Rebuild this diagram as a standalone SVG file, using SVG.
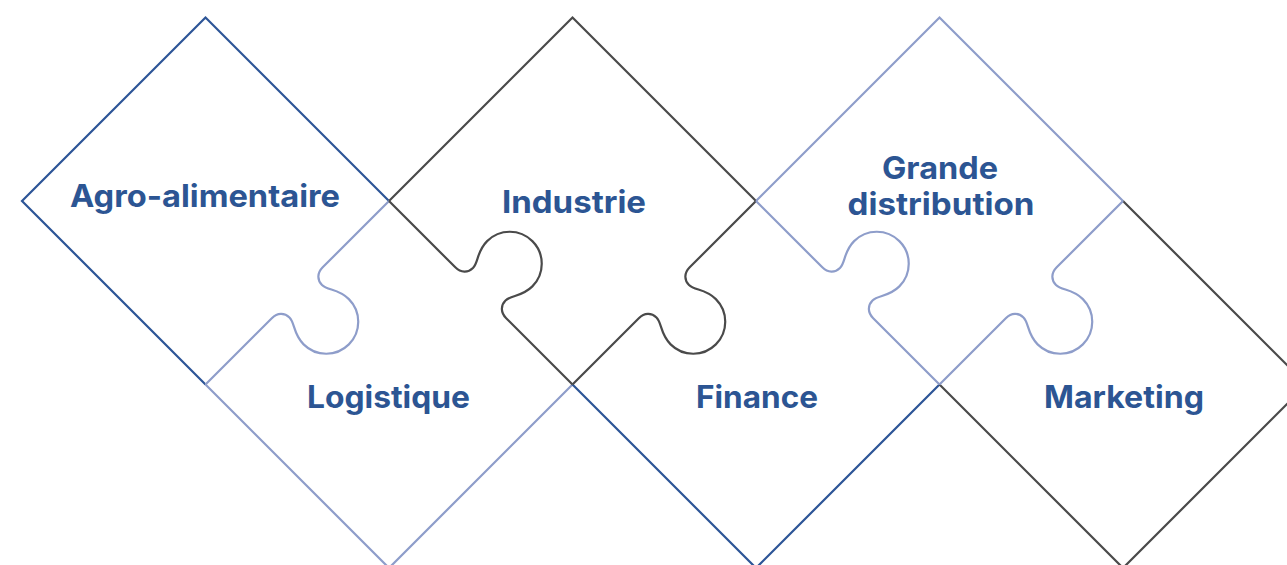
<svg xmlns="http://www.w3.org/2000/svg" xmlns:xlink="http://www.w3.org/1999/xlink" width="1287" height="565" viewBox="0 0 1287 565">
  <style>
    .edge { fill: none; stroke-width: 2.2; stroke-linejoin: miter; stroke-linecap: butt; }
    .navy { stroke: #2d5597; }
    .gray { stroke: #4a4a4a; }
    .light { stroke: #8e9dca; }
    .label { font-family: Inter, "Liberation Sans", "DejaVu Sans", sans-serif; font-weight: 700; font-size: 31px; fill: #2c5593; text-anchor: middle; }
  </style>
  <defs>
    <path id="knob" d="M -129.76 0 L -36 0 C -28 0 -23 5 -23 12 C -23 20 -32 26 -32 41 A 32 32 0 0 0 32 41 C 32 26 23 20 23 12 C 23 5 28 0 36 0 L 129.76 0"/>
  </defs>
  <rect x="0" y="0" width="1287" height="565" fill="#ffffff"/>

  <g id="agro-alimentaire">
    <polyline class="edge navy" points="205.5,384.5 22,201 205.5,17.5 389,201"/>
    <text class="label" x="205" y="207" textLength="270" lengthAdjust="spacingAndGlyphs">Agro-alimentaire</text>
  </g>

  <g id="industrie">
    <polyline class="edge gray" points="389,201 572.5,17.5 756,201"/>
    <text class="label" x="574" y="213" textLength="144" lengthAdjust="spacingAndGlyphs">Industrie</text>
  </g>

  <g id="grande-distribution">
    <polyline class="edge light" points="756,201 939.5,17.5 1123,201"/>
    <text class="label" x="940" y="179" textLength="116" lengthAdjust="spacingAndGlyphs">Grande</text>
    <text class="label" x="941" y="215" textLength="187" lengthAdjust="spacingAndGlyphs">distribution</text>
  </g>

  <g id="logistique">
    <polyline class="edge light" points="205.5,384.5 389,568 572.5,384.5"/>
    <text class="label" x="388.5" y="408" textLength="163" lengthAdjust="spacingAndGlyphs">Logistique</text>
  </g>

  <g id="finance">
    <polyline class="edge navy" points="572.5,384.5 756,568 939.5,384.5"/>
    <text class="label" x="757" y="408" textLength="122" lengthAdjust="spacingAndGlyphs">Finance</text>
  </g>

  <g id="marketing">
    <polyline class="edge gray" points="1123,201 1306.5,384.5 1123,568 939.5,384.5"/>
    <text class="label" x="1124" y="408" textLength="160" lengthAdjust="spacingAndGlyphs">Marketing</text>
  </g>

  <g id="connectors">
    <use xlink:href="#knob" href="#knob" class="edge light" transform="translate(297.25,292.75) rotate(-45)"/>
    <use xlink:href="#knob" href="#knob" class="edge gray" transform="translate(480.75,292.75) rotate(225)"/>
    <use xlink:href="#knob" href="#knob" class="edge gray" transform="translate(664.25,292.75) rotate(-45)"/>
    <use xlink:href="#knob" href="#knob" class="edge light" transform="translate(847.75,292.75) rotate(225)"/>
    <use xlink:href="#knob" href="#knob" class="edge light" transform="translate(1031.25,292.75) rotate(-45)"/>
  </g>
</svg>
